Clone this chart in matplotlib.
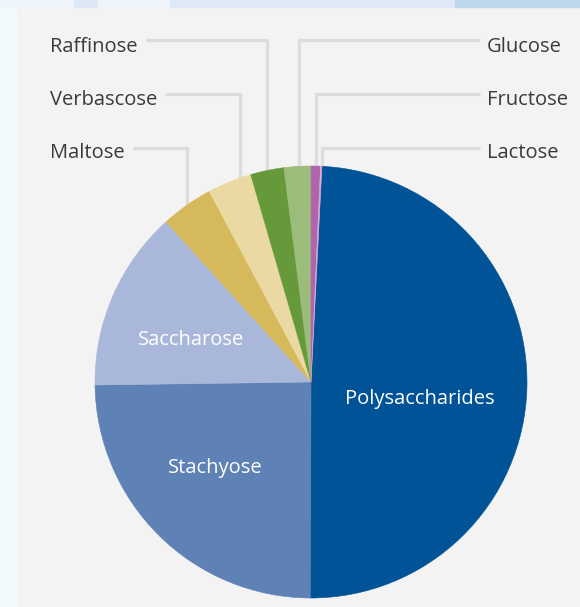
import numpy as np
import matplotlib.pyplot as plt
from matplotlib.patches import Rectangle

plt.rcParams['font.family'] = ['Open Sans', 'DejaVu Sans']

# ========================
# data
# ========================
labels = ["Polysaccharides", "Stachyose", "Saccharose", "Maltose", "Verbascose",
          "Raffinose", "Glucose", "Fructose", "Lactose"]
values = [49.2, 24.7, 13.5, 3.9, 3.3, 2.5, 2.0, 0.7, 0.1]
colors = ["#005396", "#5e82b5", "#a9b8da", "#d6b95a", "#ebd9a3",
          "#66993a", "#9cbc7c", "#b065ab", "#dfa8d8"]

# labels drawn inside the pie (center x, baseline y in pixels from top)
inside_pos = {"Polysaccharides": (420, 404), "Stachyose": (215, 473), "Saccharose": (191, 345)}
left_labels = ["Raffinose", "Verbascose", "Maltose"]
right_labels = ["Glucose", "Fructose", "Lactose"]
row_line_y = [40, 94, 148]
row_text_y = [52, 105, 158]
# small nudges of the vertical leader (pixels), like the original layout
leader_shift = {"Verbascose": 10, "Glucose": 2, "Lactose": 1}

W, H = 580, 607
cx, cy, r = 311, 382, 216

def Y(y):
    return H - y

fig = plt.figure(figsize=(W / 100, H / 100), dpi=100)
fig.patch.set_facecolor("#f2fafd")
ax = fig.add_axes([0, 0, 1, 1])

# background panel + top strip
ax.add_patch(Rectangle((17, 0), W - 17, Y(7), color="#f3f3f3", zorder=0))
for x0, x1, c in [(0, 74, "#eef6fb"), (74, 98, "#dce9f5"), (98, 170, "#eef6fb"),
                  (170, 455, "#dde9f5"), (455, W, "#bcd6ec")]:
    ax.add_patch(Rectangle((x0, Y(7)), x1 - x0, 7, color=c, zorder=0))

wedges, _ = ax.pie(values, colors=colors, center=(cx, Y(cy)), radius=r,
                   startangle=87.1, counterclock=False,
                   wedgeprops=dict(linewidth=0.4, zorder=3))
for w, c in zip(wedges, colors):
    w.set_edgecolor(c)

ax.set_xlim(0, W)
ax.set_ylim(0, H)
ax.set_aspect("equal")
ax.axis("off")

for name, (x, y) in inside_pos.items():
    ax.text(x, Y(y), name, color="white", fontsize=14.5, ha="center", va="baseline", zorder=5)

line_kw = dict(color="#dcdcdc", lw=2.4, solid_capstyle="butt", zorder=2)

def leader_x(name):
    w = wedges[labels.index(name)]
    mid = np.deg2rad((w.theta1 + w.theta2) / 2)
    return cx + r * np.cos(mid) + leader_shift.get(name, 0)

def edge_y(xv):
    return cy - np.sqrt(r ** 2 - (xv - cx) ** 2)

fig.canvas.draw()
renderer = fig.canvas.get_renderer()
for name, ly, ty in zip(left_labels, row_line_y, row_text_y):
    t = ax.text(50, Y(ty), name, color="#3a3a3a", fontsize=14.5, ha="left", va="baseline")
    bb = t.get_window_extent(renderer)
    x_start = bb.x1 + 8
    xv = leader_x(name)
    ax.plot([x_start, xv, xv], [Y(ly), Y(ly), Y(edge_y(xv) + 4)], **line_kw)

for name, ly, ty in zip(right_labels, row_line_y, row_text_y):
    ax.text(487, Y(ty), name, color="#3a3a3a", fontsize=14.5, ha="left", va="baseline")
    xv = leader_x(name)
    ax.plot([480, xv, xv], [Y(ly), Y(ly), Y(edge_y(xv) + 4)], **line_kw)

plt.savefig("out.png", dpi=100, facecolor=fig.get_facecolor())
